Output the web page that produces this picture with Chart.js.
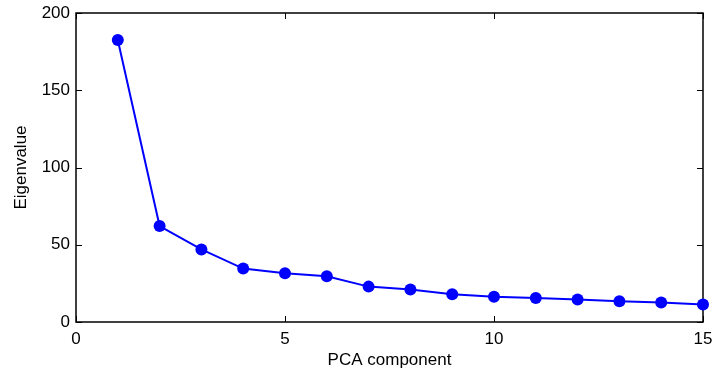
<!DOCTYPE html>
<html>
<head>
<meta charset="utf-8">
<script src="https://cdn.jsdelivr.net/npm/chart.js@4/dist/chart.umd.min.js"></script>
<style>
    html, body { margin: 0; padding: 0; background: #fff; }
    #wrap { width: 718px; height: 379px; }
</style>
</head>
<body>
<div id="wrap"><canvas id="scree"></canvas></div>
<script>
// Data
const components = [1, 2, 3, 4, 5, 6, 7, 8, 9, 10, 11, 12, 13, 14, 15];
const eigenvalues = [182.5, 62.1, 47.0, 34.6, 31.5, 29.6, 22.9, 21.0, 17.9, 16.4, 15.5, 14.5, 13.4, 12.6, 11.3];
const xTicks = [0, 5, 10, 15];
const yTicks = [0, 50, 100, 150, 200];

Chart.defaults.font = {
    family: "'Liberation Sans', Arial, Helvetica, sans-serif",
    size: 17
};
Chart.defaults.color = '#000';

// MATLAB-style box with inward ticks on all sides
const boxPlugin = {
    id: 'matlabBox',
    beforeDatasetsDraw(chart) {
        const { ctx, chartArea: a, scales } = chart;
        const len = 6;
        ctx.save();
        ctx.strokeStyle = '#000';
        ctx.lineWidth = 1;
        ctx.beginPath();
        xTicks.forEach(v => {
            const px = Math.round(scales.x.getPixelForValue(v)) + 0.5;
            ctx.moveTo(px, a.bottom); ctx.lineTo(px, a.bottom - len);
            ctx.moveTo(px, a.top); ctx.lineTo(px, a.top + len);
        });
        yTicks.forEach(v => {
            const py = Math.round(scales.y.getPixelForValue(v)) + 0.5;
            ctx.moveTo(a.left, py); ctx.lineTo(a.left + len, py);
            ctx.moveTo(a.right, py); ctx.lineTo(a.right - len, py);
        });
        ctx.stroke();
        ctx.lineWidth = 1.5;
        ctx.strokeRect(a.left, a.top, a.right - a.left, a.bottom - a.top);
        ctx.restore();
    }
};

new Chart(document.getElementById('scree').getContext('2d'), {
    type: 'line',
    data: {
        datasets: [{
            data: components.map((c, i) => ({ x: c, y: eigenvalues[i] })),
            borderColor: '#0000ff',
            backgroundColor: '#0000ff',
            borderWidth: 2,
            pointRadius: 6,
            pointBorderWidth: 0,
            tension: 0,
            clip: false
        }]
    },
    options: {
        responsive: true,
        maintainAspectRatio: false,
        animation: false,
        layout: { padding: { left: 0, right: 15, top: 13, bottom: 0 } },
        plugins: { legend: { display: false }, tooltip: { enabled: false } },
        scales: {
            x: {
                type: 'linear',
                min: 0,
                max: 15,
                afterFit: s => { s.height = 57; s.paddingLeft = 0; s.paddingRight = 0; },
                afterBuildTicks: s => { s.ticks = xTicks.map(v => ({ value: v })); },
                grid: { display: false, drawTicks: false },
                border: { display: false },
                ticks: { padding: 7, maxRotation: 0 },
                title: { display: true, text: 'PCA component', padding: { top: 0, bottom: 8 } }
            },
            y: {
                min: 0,
                max: 200,
                afterFit: s => { s.width = 76; s.paddingTop = 0; s.paddingBottom = 0; },
                afterBuildTicks: s => { s.ticks = yTicks.map(v => ({ value: v })); },
                grid: { display: false, drawTicks: false },
                border: { display: false },
                ticks: { padding: 6 },
                title: { display: true, text: 'Eigenvalue', padding: { top: 11, bottom: 0 } }
            }
        }
    },
    plugins: [boxPlugin]
});
</script>
</body>
</html>
